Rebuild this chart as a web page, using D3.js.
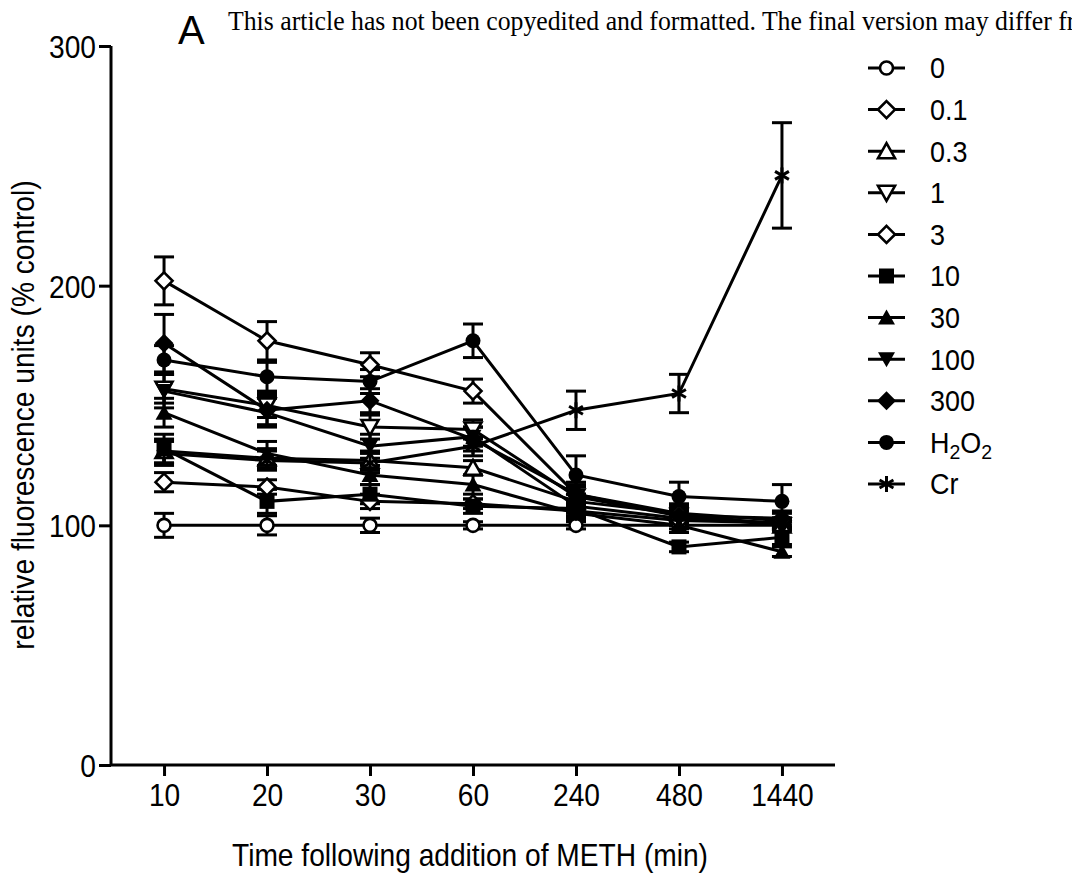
<!DOCTYPE html>
<html>
<head>
<meta charset="utf-8">
<script src="https://cdn.jsdelivr.net/npm/d3@7"></script>
<style>
  html, body { margin: 0; padding: 0; background: #fff; }
  svg { display: block; }
  text { font-family: "Liberation Sans", Arial, sans-serif; fill: #000; }
</style>
</head>
<body>
<div id="chart"></div>
<script>
// Data (relative fluorescence, % control; mean and SEM)
const times = ["10", "20", "30", "60", "240", "480", "1440"];
const yTicks = [0, 100, 200, 300];

const doseLabels = ["0", "0.1", "0.3", "1", "3", "10", "30", "100", "300", "H2O2", "Cr"];
const markerTypes = ["circleOpen", "diamondOpen", "triUpOpen", "triDownOpen", "diamondOpen",
                     "square", "triUp", "triDown", "diamond", "circle", "asterisk"];

const v0     = [100, 100, 100, 100, 100, 100, 100];
const v01    = [118, 116, 110, 109, 106, 102, 101];
const v03    = [131, 128, 127, 124, 110, 105, 100];
const v1     = [157, 150, 141, 140, 112, 104, 100];
const v3     = [202, 177, 167, 156, 113, 105, 102];
const v10    = [132, 110, 113, 108, 107, 91, 95];
const v30    = [147, 130, 121, 117, 105, 100, 89];
const v100   = [156, 147, 133, 137, 108, 103, 101];
const v300   = [176, 148, 152, 136, 113, 104, 103];
const vH2O2  = [169, 162, 160, 177, 121, 112, 110];
const vCr    = [130, 127, 126, 133, 148, 155, 246];

const e0     = [5, 4, 3, 1.5, 1.5, 1.5, 1.5];
const e01    = [4, 3, 3, 2, 3, 2, 2];
const e03    = [5, 4, 4, 3, 3, 3, 2];
const e1     = [6, 5, 5, 4, 4, 3, 2];
const e3     = [10, 8, 5, 5, 5, 4, 3];
const e10    = [6, 5, 4, 3, 3, 2, 3];
const e30    = [6, 5, 4, 4, 3, 3, 2];
const e100   = [7, 6, 5, 4, 3, 3, 2];
const e300   = [12, 6, 5, 5, 4, 3, 3];
const eH2O2  = [6, 6, 5, 7, 8, 6, 7];
const eCr    = [5, 4, 4, 4, 8, 8, 22];

const allValues = [v0, v01, v03, v1, v3, v10, v30, v100, v300, vH2O2, vCr];
const allErrors = [e0, e01, e03, e1, e3, e10, e30, e100, e300, eH2O2, eCr];

const series = doseLabels.map((name, i) => ({
  name, marker: markerTypes[i],
  points: times.map((t, j) => ({ t, v: allValues[i][j], e: allErrors[i][j] }))
}));

const W = 1072, H = 874;
const K = 0.88; // the figure's lettering is slightly condensed
const svg = d3.select("#chart").append("svg").attr("width", W).attr("height", H);

const x = d3.scalePoint().domain(times).range([111, 835]).padding(0.515);
const y = d3.scaleLinear().domain([0, 300]).range([765, 46]);

// squeeze a text horizontally while keeping its anchor where it was
function condense(sel, k) {
  sel.each(function () {
    const t = d3.select(this);
    const tx = +t.attr("x") || 0;
    t.attr("x", tx / k).attr("transform", `scale(${k},1)`);
  });
}

// header strip text (cut at the right edge, as in the source page)
svg.append("text")
  .attr("x", 228 / 0.955).attr("y", 30)
  .attr("transform", "scale(0.955,1)")
  .style("font-family", "'Liberation Serif', 'Times New Roman', serif")
  .style("font-size", "27px")
  .text("This article has not been copyedited and formatted. The final version may differ from this version.");

svg.append("text")
  .attr("x", 178).attr("y", 44)
  .style("font-size", "40px")
  .text("A");

// axes
const yAxis = svg.append("g")
  .attr("transform", "translate(111,0)")
  .call(d3.axisLeft(y).tickValues(yTicks).tickSize(12).tickPadding(3));
yAxis.select(".domain").attr("stroke-width", 3).attr("d", `M0,${y(300)}V${y(0)}`);
yAxis.selectAll(".tick line").attr("stroke-width", 3);
yAxis.selectAll(".tick text").style("font-size", "32px").attr("dy", "0.36em").call(condense, K);

const xAxis = svg.append("g")
  .attr("transform", `translate(0,${y(0)})`)
  .call(d3.axisBottom(x).tickSize(11).tickPadding(7));
xAxis.select(".domain").attr("stroke-width", 3).attr("d", "M111,0H835");
xAxis.selectAll(".tick line").attr("stroke-width", 3);
xAxis.selectAll(".tick text").style("font-size", "32px").call(condense, K);

svg.append("text")
  .attr("x", 470 / K).attr("y", 866)
  .attr("transform", `scale(${K},1)`)
  .attr("text-anchor", "middle")
  .style("font-size", "32px")
  .text("Time following addition of METH (min)");

svg.append("text")
  .attr("transform", `translate(34,415) rotate(-90) scale(${K},1)`)
  .attr("text-anchor", "middle")
  .style("font-size", "32px")
  .text("relative fluorescence units (% control)");

// marker drawing
function drawMarker(g, type) {
  const sw = 2.6;
  const open = type.endsWith("Open");
  const fill = open ? "#fff" : "#000";
  if (type.startsWith("circle")) {
    g.append("circle").attr("r", open ? 6.5 : 7.5).attr("fill", fill)
      .attr("stroke", "#000").attr("stroke-width", open ? sw : 0);
  } else if (type.startsWith("diamond")) {
    const r = open ? 8.5 : 9.5;
    g.append("path").attr("d", `M0,${-r}L${r},0L0,${r}L${-r},0Z`).attr("fill", fill)
      .attr("stroke", "#000").attr("stroke-width", open ? sw : 0);
  } else if (type.startsWith("triUp")) {
    g.append("path").attr("d", "M0,-8L8.5,7L-8.5,7Z").attr("fill", fill)
      .attr("stroke", "#000").attr("stroke-width", open ? sw : 0);
  } else if (type.startsWith("triDown")) {
    g.append("path").attr("d", "M0,8L8.5,-7L-8.5,-7Z").attr("fill", fill)
      .attr("stroke", "#000").attr("stroke-width", open ? sw : 0);
  } else if (type === "square") {
    g.append("rect").attr("x", -7.5).attr("y", -7.5).attr("width", 15).attr("height", 15).attr("fill", "#000");
  } else if (type === "asterisk") {
    const r = 8;
    [0, 60, 120].forEach(a => {
      const rad = a * Math.PI / 180;
      g.append("line")
        .attr("x1", -r * Math.sin(rad)).attr("y1", -r * Math.cos(rad))
        .attr("x2", r * Math.sin(rad)).attr("y2", r * Math.cos(rad))
        .attr("stroke", "#000").attr("stroke-width", 3);
    });
  }
}

const plot = svg.append("g");
const line = d3.line().x(d => x(d.t)).y(d => y(d.v));

// error bars
series.forEach(s => {
  s.points.forEach(p => {
    const eb = plot.append("g").attr("stroke", "#000").attr("stroke-width", 3).attr("fill", "none");
    eb.append("line").attr("x1", x(p.t)).attr("x2", x(p.t)).attr("y1", y(p.v - p.e)).attr("y2", y(p.v + p.e));
    [p.v - p.e, p.v + p.e].forEach(v => {
      eb.append("line").attr("x1", x(p.t) - 10).attr("x2", x(p.t) + 10).attr("y1", y(v)).attr("y2", y(v));
    });
  });
});

// lines
series.forEach(s => {
  plot.append("path").datum(s.points)
    .attr("d", line).attr("fill", "none").attr("stroke", "#000").attr("stroke-width", 3);
});

// markers
series.forEach(s => {
  s.points.forEach(p => {
    const g = plot.append("g").attr("transform", `translate(${x(p.t)},${y(p.v)})`);
    drawMarker(g, s.marker);
  });
});

// legend
const legend = svg.append("g").attr("transform", "translate(868,68)");
series.forEach((s, i) => {
  const row = legend.append("g").attr("transform", `translate(0,${i * 41.6})`);
  row.append("line").attr("x1", 0).attr("x2", 37).attr("stroke", "#000").attr("stroke-width", 3);
  const m = row.append("g").attr("transform", "translate(18.5,0)");
  drawMarker(m, s.marker);
  const t = row.append("text").attr("x", 62).attr("dy", "0.36em").style("font-size", "29px");
  if (s.name === "H2O2") {
    t.append("tspan").text("H");
    t.append("tspan").text("2").attr("dy", "0.3em").style("font-size", "21px");
    t.append("tspan").text("O").attr("dy", "-0.22em");
    t.append("tspan").text("2").attr("dy", "0.3em").style("font-size", "21px");
  } else {
    t.text(s.name);
  }
  t.call(condense, 0.93);
});
</script>
</body>
</html>
